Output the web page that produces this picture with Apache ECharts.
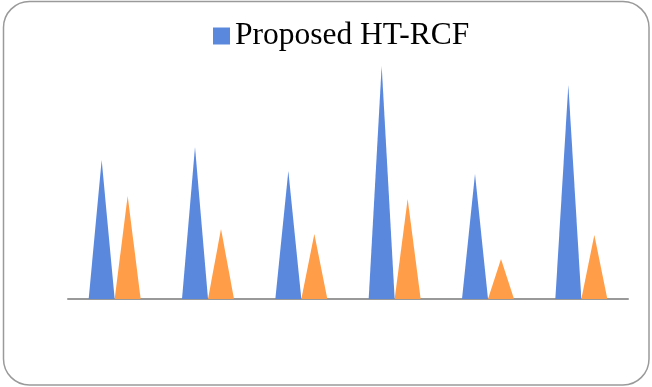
<!DOCTYPE html>
<html><head><meta charset="utf-8">
<script src="https://cdn.jsdelivr.net/npm/echarts@6/dist/echarts.min.js"></script>
<style>html,body{margin:0;padding:0;background:#fff}#c{width:652px;height:387px}</style>
</head><body><div id="c"></div>
<script>
const categories = ['1', '2', '3', '4', '5', '6'];
const proposedValues = [139, 152, 128, 233, 125, 214];
const otherValues = [103, 70, 65, 100, 40, 64];

const chart = echarts.init(document.getElementById('c'));
chart.setOption({
  animation: false,
  graphic: [{
    type: 'rect', shape: {x: 3.5, y: 1.5, width: 645.5, height: 383.5, r: 26},
    style: {fill: 'none', stroke: '#9a9a9a', lineWidth: 1.5}, z: 0
  }],
  legend: {
    data: ['Proposed HT-RCF'], top: 15, left: 208,
    itemWidth: 17, itemHeight: 17, itemGap: 6,
    textStyle: {fontFamily: 'Liberation Serif', fontSize: 31.5, color: '#000'},
    icon: 'rect'
  },
  grid: {left: 68, right: 24, top: 49, bottom: 88},
  xAxis: {
    type: 'category', data: categories,
    axisLine: {lineStyle: {color: '#999', width: 2}},
    axisTick: {show: false}, axisLabel: {show: false}
  },
  yAxis: {
    type: 'value', min: 0, max: 250,
    axisLine: {show: false}, axisTick: {show: false},
    axisLabel: {show: false}, splitLine: {show: false}
  },
  series: [
    {name: 'Proposed HT-RCF', type: 'pictorialBar', symbol: 'triangle',
     barWidth: 26, barGap: '0%', data: proposedValues,
     itemStyle: {color: '#5a88dd'}},
    {name: 'Other', type: 'pictorialBar', symbol: 'triangle',
     barWidth: 26, barGap: '0%', data: otherValues,
     itemStyle: {color: '#ff9d48'}}
  ]
});
</script></body></html>
